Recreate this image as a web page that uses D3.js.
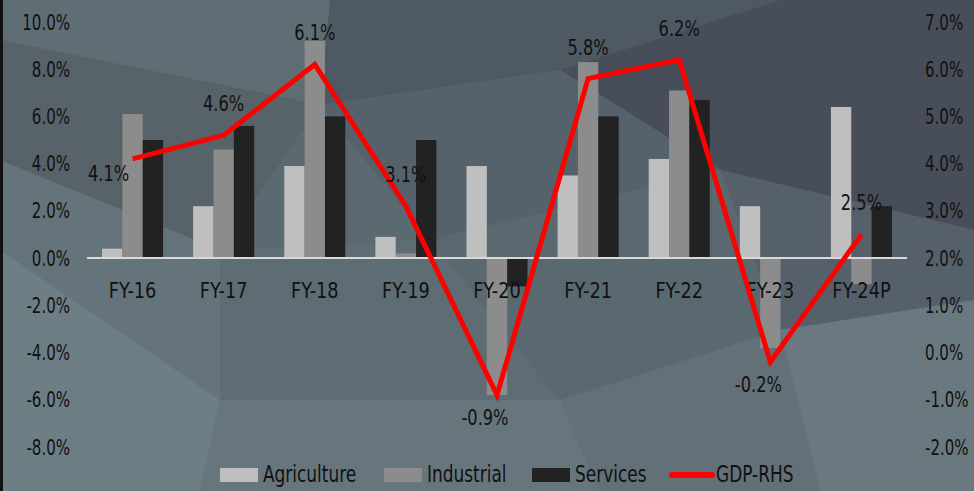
<!DOCTYPE html>
<html>
<head>
<meta charset="utf-8">
<script src="https://cdn.jsdelivr.net/npm/d3@7"></script>
<style>
  body { margin: 0; background: #5b6970; }
  text { font-family: "DejaVu Sans Condensed", "DejaVu Sans", sans-serif; fill: #111; }
</style>
</head>
<body>
<div id="chart"></div>
<script>
// data
var categories = ["FY-16", "FY-17", "FY-18", "FY-19", "FY-20", "FY-21", "FY-22", "FY-23", "FY-24P"];
var agriculture = [0.4, 2.2, 3.9, 0.9, 3.9, 3.5, 4.2, 2.2, 6.4];
var industrial = [6.1, 4.6, 9.2, 0.2, -5.8, 8.3, 7.1, -3.8, -1.1];
var services = [5.0, 5.6, 6.0, 5.0, -1.2, 6.0, 6.7, 0.0, 2.2];
var gdp = [4.1, 4.6, 6.1, 3.1, -0.9, 5.8, 6.2, -0.2, 2.5];
var leftTicks = [-8, -6, -4, -2, 0, 2, 4, 6, 8, 10];
var rightTicks = [-2, -1, 0, 1, 2, 3, 4, 5, 6, 7];

var seriesNames = ["Agriculture", "Industrial", "Services"];
var seriesColors = ["#bfbfbf", "#8c8c8c", "#222222"];
var labelPlace = ["left", "above", "above", "above", "below", "above", "above", "below", "above"];

var svgWidth = 974;
var svgHeight = 491;

var svg = d3.select("#chart")
  .append("svg")
  .attr("width", svgWidth)
  .attr("height", svgHeight);

// squeeze text horizontally around its anchor (the original font is narrow)
function squeeze(sel, sx) {
  sel.each(function () {
    var t = d3.select(this);
    var x = +t.attr("x") || 0;
    var y = +t.attr("y") || 0;
    t.attr("x", 0).attr("y", 0)
      .attr("transform", `translate(${x},${y}) scale(${sx},1)`);
  });
}

// background facets
var bg = svg.append("g");
bg.append("rect").attr("width", svgWidth).attr("height", svgHeight).attr("fill", "#5b6970");
var facets = [
  { p: [[0, 0], [330, 0], [320, 105], [0, 40]], c: "#5f6d74" },
  { p: [[330, 0], [780, 0], [560, 70], [320, 105]], c: "#4f5963" },
  { p: [[780, 0], [974, 0], [974, 230], [720, 170], [560, 70]], c: "#474e59" },
  { p: [[320, 105], [560, 70], [720, 170], [430, 240]], c: "#56626b" },
  { p: [[0, 40], [320, 105], [220, 250], [0, 160]], c: "#576269" },
  { p: [[0, 160], [220, 250], [220, 400], [0, 250]], c: "#65747b" },
  { p: [[0, 250], [220, 400], [200, 491], [0, 491]], c: "#6e7e85" },
  { p: [[220, 250], [430, 240], [560, 400], [220, 400]], c: "#5e6c73" },
  { p: [[220, 400], [560, 400], [600, 491], [200, 491]], c: "#67767c" },
  { p: [[720, 170], [974, 230], [974, 300], [780, 330]], c: "#56606a" },
  { p: [[780, 330], [974, 300], [974, 491], [820, 491]], c: "#6a797f" },
  { p: [[430, 240], [720, 170], [780, 330], [560, 400]], c: "#5a6870" },
  { p: [[560, 400], [780, 330], [820, 491], [600, 491]], c: "#637077" }
];
bg.selectAll("polygon")
  .data(facets)
  .enter()
  .append("polygon")
  .attr("points", d => d.p.map(q => q.join(",")).join(" "))
  .attr("fill", d => d.c);
bg.append("rect").attr("width", 3).attr("height", svgHeight).attr("fill", "#111");

// scales
var x0 = d3.scaleBand()
  .domain(categories)
  .range([87, 907])
  .paddingInner(0.33)
  .paddingOuter(0.165);

var x1 = d3.scaleBand()
  .domain(seriesNames)
  .range([0, x0.bandwidth()]);

var yLeft = d3.scaleLinear().domain([-8, 10]).range([447, 22]);
var yRight = d3.scaleLinear().domain([-2, 7]).range([447, 22]);

var fmt = d => d3.format(".1f")(d).replace("\u2212", "-") + "%";

// left axis labels
var leftAxis = d3.axisLeft(yLeft).tickValues(leftTicks).tickFormat(fmt).tickSize(0).tickPadding(0);
var gLeft = svg.append("g")
  .attr("transform", "translate(70,0)")
  .call(leftAxis);
gLeft.select(".domain").remove();
gLeft.selectAll("text")
  .attr("font-size", 22)
  .attr("fill", "#111")
  .style("font-family", null)
  .attr("transform", "scale(0.76,1)");

// right axis labels
var rightAxis = d3.axisRight(yRight).tickValues(rightTicks).tickFormat(fmt).tickSize(0).tickPadding(0);
var gRight = svg.append("g")
  .attr("transform", "translate(925,0)")
  .call(rightAxis);
gRight.select(".domain").remove();
gRight.selectAll("text")
  .attr("font-size", 22)
  .attr("fill", "#111")
  .style("font-family", null)
  .attr("transform", "scale(0.76,1)");

// bars
var rows = categories.map((c, i) => ({
  cat: c,
  vals: [agriculture[i], industrial[i], services[i]]
}));

var groups = svg.append("g")
  .selectAll("g")
  .data(rows)
  .enter()
  .append("g")
  .attr("transform", d => `translate(${x0(d.cat)},0)`);

groups.selectAll("rect")
  .data(d => d.vals.map((v, j) => ({ name: seriesNames[j], v: v, c: seriesColors[j] })))
  .enter()
  .append("rect")
  .attr("x", d => x1(d.name))
  .attr("width", x1.bandwidth())
  .attr("y", d => yLeft(Math.max(0, d.v)))
  .attr("height", d => Math.abs(yLeft(d.v) - yLeft(0)))
  .attr("fill", d => d.c);

// zero line
svg.append("line")
  .attr("x1", 87)
  .attr("x2", 907)
  .attr("y1", yLeft(0))
  .attr("y2", yLeft(0))
  .attr("stroke", "#d9d9d9")
  .attr("stroke-width", 2);

// category labels
svg.append("g")
  .selectAll("text")
  .data(categories)
  .enter()
  .append("text")
  .attr("x", d => x0(d) + x0.bandwidth() / 2)
  .attr("y", 292)
  .attr("text-anchor", "middle")
  .attr("dominant-baseline", "middle")
  .attr("font-size", 21)
  .text(d => d)
  .call(squeeze, 0.94);

// GDP line on right axis
var line = d3.line()
  .x((d, i) => x0(categories[i]) + x0.bandwidth() / 2)
  .y(d => yRight(d));

svg.append("path")
  .datum(gdp)
  .attr("d", line)
  .attr("fill", "none")
  .attr("stroke", "#ff0000")
  .attr("stroke-width", 5)
  .attr("stroke-linejoin", "miter");

var offsets = {
  above: { dx: 0, dy: -30 },
  below: { dx: -12, dy: 24 },
  left: { dx: -24, dy: 16 }
};

svg.append("g")
  .selectAll("text")
  .data(gdp)
  .enter()
  .append("text")
  .attr("x", (d, i) => x0(categories[i]) + x0.bandwidth() / 2 + offsets[labelPlace[i]].dx)
  .attr("y", (d, i) => yRight(d) + offsets[labelPlace[i]].dy)
  .attr("text-anchor", "middle")
  .attr("dominant-baseline", "middle")
  .attr("font-size", 21)
  .text(d => fmt(d))
  .call(squeeze, 0.86);

// legend
var legendItems = [
  { name: "Agriculture", c: seriesColors[0], type: "rect", x: 220 },
  { name: "Industrial", c: seriesColors[1], type: "rect", x: 384 },
  { name: "Services", c: seriesColors[2], type: "rect", x: 532 },
  { name: "GDP-RHS", c: "#ff0000", type: "line", x: 670 }
];

var legend = svg.append("g")
  .selectAll("g")
  .data(legendItems)
  .enter()
  .append("g")
  .attr("transform", d => `translate(${d.x},475)`);

legend.filter(d => d.type === "rect")
  .append("rect")
  .attr("y", -7)
  .attr("width", 38)
  .attr("height", 14)
  .attr("fill", d => d.c);

legend.filter(d => d.type === "line")
  .append("line")
  .attr("x1", 2)
  .attr("x2", 42)
  .attr("stroke", d => d.c)
  .attr("stroke-width", 6)
  .attr("stroke-linecap", "round");

legend.append("text")
  .attr("x", d => d.type === "line" ? 46 : 43)
  .attr("dominant-baseline", "middle")
  .attr("font-size", 23)
  .text(d => d.name)
  .call(squeeze, 0.82);
</script>
</body>
</html>
